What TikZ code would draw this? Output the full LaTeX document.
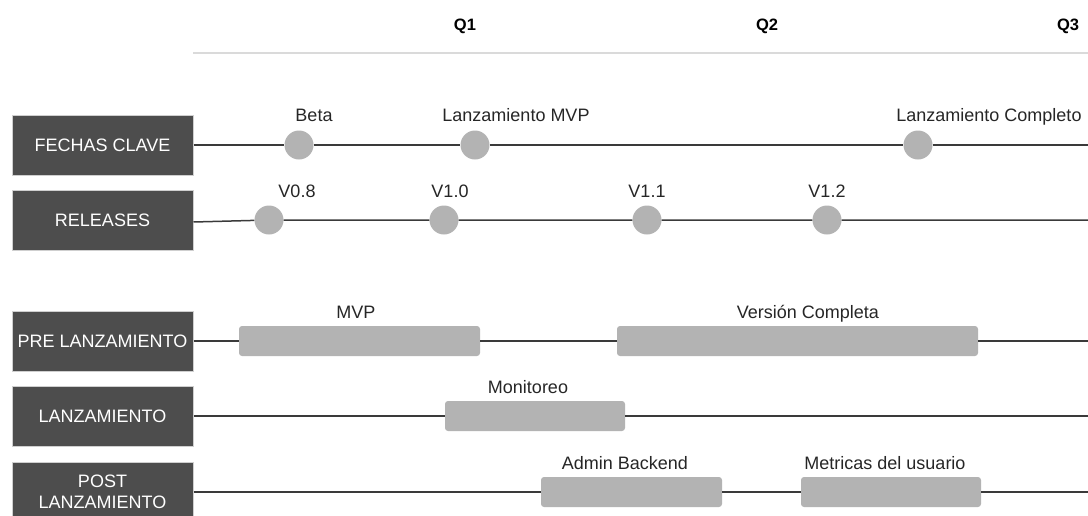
\documentclass[tikz,border=0pt]{standalone}
\usepackage{fontspec}
\setmainfont{Liberation Sans}
\definecolor{lanebg}{HTML}{4D4D4D}
\definecolor{lanebd}{HTML}{CFCFCF}
\definecolor{chip}{HTML}{B3B3B3}
\definecolor{trackc}{HTML}{3A3A3A}
\definecolor{ink}{HTML}{262626}
\definecolor{rule}{HTML}{DADADA}
\begin{document}
\begin{tikzpicture}[x=1pt,y=-1pt,
  lane/.style={draw=lanebd, line width=1pt, fill=lanebg, text=white,
    minimum width=181pt, minimum height=60pt, inner sep=0pt, align=center,
    font=\fontsize{18}{21}\selectfont},
  milestone/.style={circle, fill=chip, minimum size=29pt, inner sep=0pt},
  task/.style={rectangle, rounded corners=3pt, fill=chip, minimum height=30pt, inner sep=0pt},
  tag/.style={anchor=base, text=ink, inner sep=0pt, font=\fontsize{18}{21}\selectfont},
  quarter/.style={anchor=base, text=black, inner sep=0pt, font=\bfseries\fontsize{16.5}{19}\selectfont},
  track/.style={draw=trackc, line width=1.5pt},
  headrule/.style={draw=rule, line width=2pt}]
\useasboundingbox (0,0) rectangle (1088,515);
\clip (0,0) rectangle (1088,515);

% quarter header
\node[quarter] (q1) at (465,30.5) {Q1};
\node[quarter] (q2) at (767,30.5) {Q2};
\node[quarter] (q3) at (1068,30.5) {Q3};
\coordinate (hrA) at (193,53);
\coordinate (hrB) at (1088,53);
\draw[headrule] (hrA) -- (hrB);

% lane headings
\node[lane] (fechas) at (102.5,145) {FECHAS CLAVE};
\node[lane] (releases) at (102.5,220) {RELEASES};
\node[lane] (pre) at (102.5,341) {PRE LANZAMIENTO};
\node[lane] (lanz) at (102.5,416) {LANZAMIENTO};
\node[lane] (post) at (102.5,492) {POST\\LANZAMIENTO};

% key dates
\node[milestone] (beta) at (299,145) {};
\node[milestone] (mvpday) at (475,145) {};
\node[milestone] (fullday) at (918,145) {};
\coordinate (fechasEnd) at (1088,145);
\draw[track] (fechas.east) -- (beta) -- (mvpday) -- (fullday) -- (fechasEnd);
\node[tag] (tbeta) at (314,121.5) {Beta};
\node[tag] (tmvpday) at (516,121.5) {Lanzamiento MVP};
\node[tag] (tfullday) at (989,121.5) {Lanzamiento Completo};

% releases
\node[milestone] (r08) at (269,220) {};
\node[milestone] (r10) at (444,220) {};
\node[milestone] (r11) at (647,220) {};
\node[milestone] (r12) at (827,220) {};
\coordinate (relEnd) at (1088,220);
\draw[track] ([yshift=-2pt]releases.east) -- (r08) -- (r10) -- (r11) -- (r12) -- (relEnd);
\node[tag] (t08) at (297,197) {V0.8};
\node[tag] (t10) at (450,197) {V1.0};
\node[tag] (t11) at (647,197) {V1.1};
\node[tag] (t12) at (827,197) {V1.2};

% pre-launch
\node[task, minimum width=241pt] (mvpbar) at (359.5,341) {};
\node[task, minimum width=361pt] (fullbar) at (797.5,341) {};
\coordinate (preEnd) at (1088,341);
\draw[track] (pre.east) -- (mvpbar) -- (fullbar) -- (preEnd);
\node[tag] (tmvpbar) at (356,318) {MVP};
\node[tag] (tfullbar) at (808,318) {Versión Completa};

% launch
\node[task, minimum width=180pt] (monbar) at (535,416) {};
\coordinate (lanzEnd) at (1088,416);
\draw[track] (lanz.east) -- (monbar) -- (lanzEnd);
\node[tag] (tmonbar) at (528,393) {Monitoreo};

% post-launch
\node[task, minimum width=181pt] (adminbar) at (631.5,492) {};
\node[task, minimum width=180pt] (metbar) at (891,492) {};
\coordinate (postEnd) at (1088,492);
\draw[track] (post.east) -- (adminbar) -- (metbar) -- (postEnd);
\node[tag] (tadminbar) at (625,469) {Admin Backend};
\node[tag] (tmetbar) at (885,469) {Metricas del usuario};
\end{tikzpicture}
\end{document}
